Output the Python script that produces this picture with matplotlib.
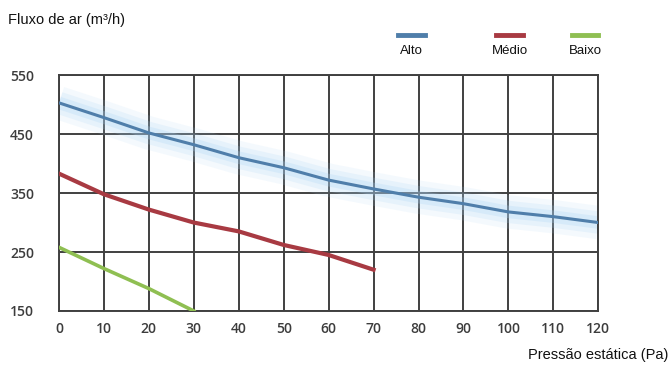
import matplotlib

matplotlib.use("Agg")
import matplotlib.pyplot as plt

pressure_alto = [0, 10, 20, 30, 40, 50, 60, 70, 80, 90, 100, 110, 120]
flow_alto = [503, 478, 452, 432, 410, 393, 372, 357, 343, 332, 318, 310, 300]
pressure_medio = [0, 10, 20, 30, 40, 50, 60, 70]
flow_medio = [383, 348, 322, 300, 285, 262, 245, 220]
pressure_baixo = [0, 10, 20, 30]
flow_baixo = [258, 222, 188, 150]

x_ticks = list(range(0, 121, 10))
y_ticks = [150, 250, 350, 450, 550]

series_names = ["Alto", "Médio", "Baixo"]
colors = ["#4f7eaa", "#a83a42", "#8fbf52"]

fig = plt.figure(figsize=(6.7, 3.72), dpi=100)
ax = fig.add_axes([0.088, 0.164, 0.805, 0.634])

# soft halo around the blue curve
for width, alpha in [(24, 0.12), (16, 0.18), (9, 0.25)]:
    ax.plot(pressure_alto, flow_alto, color="#a9d3f5", lw=width, alpha=alpha,
            solid_capstyle="butt", zorder=2)

ax.plot(pressure_alto, flow_alto, color=colors[0], lw=2.2, zorder=4)
ax.plot(pressure_medio, flow_medio, color=colors[1], lw=3, zorder=4)
ax.plot(pressure_baixo, flow_baixo, color=colors[2], lw=2.6, zorder=4)

ax.set_xlim(0, 120)
ax.set_ylim(150, 550)
ax.set_xticks(x_ticks)
ax.set_yticks(y_ticks)
ax.grid(True, color="#404040", lw=1.4, zorder=3)
for s in ax.spines.values():
    s.set_color("#404040")
    s.set_linewidth(1.4)
    s.set_zorder(3)
ax.tick_params(axis="y", length=0, pad=18, labelsize=10, labelcolor="#3c3c3c")
ax.tick_params(axis="x", length=0, pad=8, labelsize=10, labelcolor="#3c3c3c")
for lab in ax.get_xticklabels() + ax.get_yticklabels():
    lab.set_family("Open Sans")
    lab.set_fontweight("semibold")

fig.text(0.012, 0.945, "Fluxo de ar (m³/h)", fontsize=10.5, family="Liberation Sans",
         va="center", ha="left", color="#111111")
fig.text(0.997, 0.045, "Pressão estática (Pa)", fontsize=10.5, family="Liberation Sans",
         va="center", ha="right", color="#111111")

# legend drawn as short bars with labels underneath
legend_x = [0.614, 0.761, 0.873]
for name, col, lx in zip(series_names, colors, legend_x):
    fig.add_artist(plt.Line2D([lx - 0.02, lx + 0.02], [0.907, 0.907], color=col, lw=3.5,
                              transform=fig.transFigure))
    fig.text(lx, 0.862, name, fontsize=9.5, family="Liberation Sans", ha="center",
             va="center", color="#111111")

fig.savefig("out.png", dpi=100)
